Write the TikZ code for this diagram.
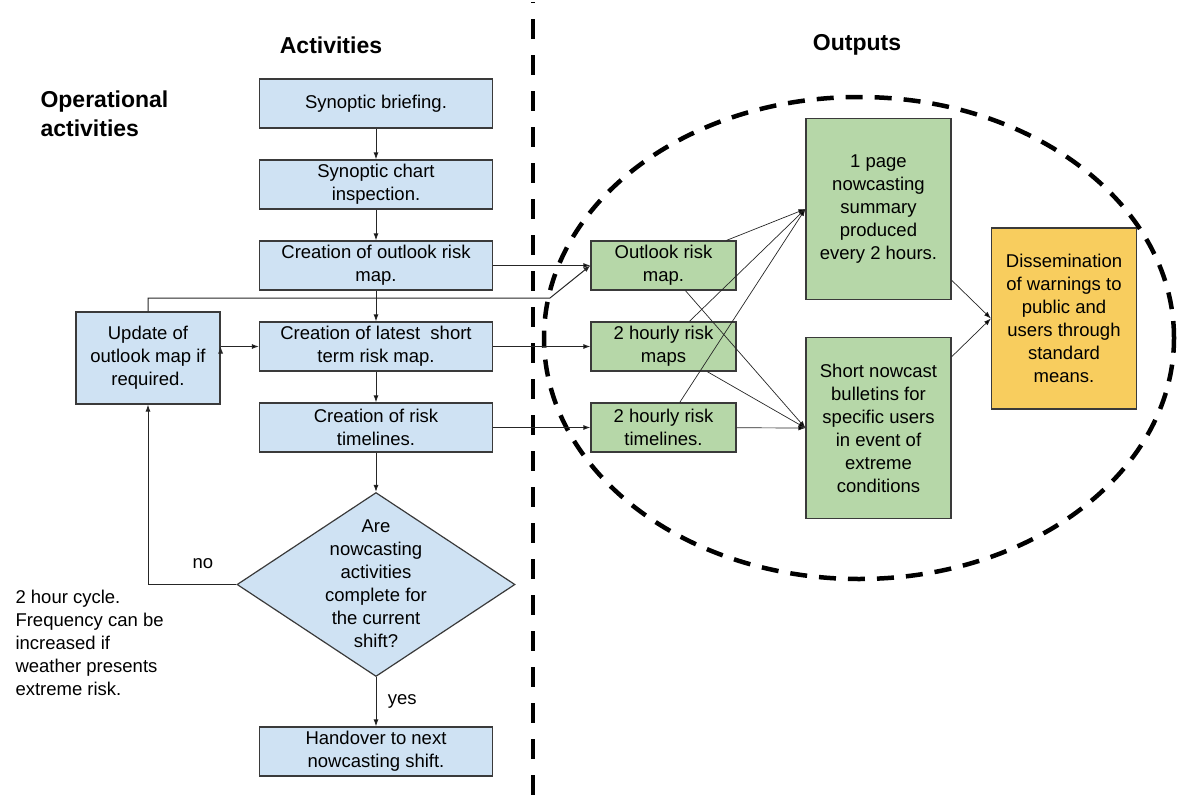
\documentclass[tikz,border=0pt]{standalone}
\usepackage{fontspec}
\setmainfont{Liberation Sans}
\usepackage{tikz}
\usetikzlibrary{arrows.meta,shapes.geometric}
\definecolor{actblue}{HTML}{CFE2F3}
\definecolor{outgreen}{HTML}{B6D7A8}
\definecolor{dissorange}{HTML}{F8CD5E}
\definecolor{edgegray}{HTML}{3A3A3A}

\begin{document}
\begin{tikzpicture}
[
x=1pt, y=-1pt,
font=\fontsize{18.5}{23}\selectfont,
>={Latex[length=7pt,width=5pt]},
act/.style={rectangle, draw=edgegray, line width=1.2pt, fill=actblue, minimum width=233pt, minimum height=49pt, inner sep=2pt, align=center, node distance=81pt},
upd/.style={act, minimum width=144pt, minimum height=92pt},
decide/.style={diamond, draw=edgegray, line width=1.2pt, fill=actblue, minimum width=278pt, minimum height=184pt, inner sep=0pt},
outp/.style={rectangle, draw=edgegray, line width=1.2pt, fill=outgreen, minimum width=145pt, minimum height=49pt, inner sep=2pt, align=center, node distance=81pt},
summ/.style={outp, minimum height=181pt},
diss/.style={summ, fill=dissorange},
title/.style={font=\bfseries\fontsize{23}{29}\selectfont, align=left},
note/.style={align=left, anchor=west},
link/.style={->, line width=1pt, draw=black!85},
fan/.style={->, line width=0.7pt, draw=black!85},
sepline/.style={line width=4pt, dash pattern=on 20pt off 16pt, dash phase=19pt},
ovaline/.style={line width=4.5pt, dash pattern=on 17pt off 12pt}
]
%Nodes
\node[title]           (acttitle)                 at (331,43)        {Activities};
\node[title]           (outtitle)                 at (857,43)        {Outputs};
\node[title, anchor=west] (optitle)               at (37,112)        {Operational\\activities};

\node[act]             (brief)                    at (376,101.5)     {Synoptic briefing.};
\node[act]             (chart)    [below of=brief]                   {Synoptic chart\\inspection.};
\node[act]             (olrisk)   [below of=chart]                   {Creation of outlook risk\\map.};
\node[act]             (short)    [below of=olrisk]                  {Creation of latest \ short\\term risk map.};
\node[act]             (timel)    [below of=short]                   {Creation of risk\\timelines.};
\node[decide]          (check)    [below of=timel, node distance=157pt]
  {\smash{\raisebox{-4pt}{\parbox{150pt}{\centering Are\\nowcasting\\activities\\complete for\\the current\\shift?}}}};
\node[act]             (hand)     [below of=check, node distance=167pt] {Handover to next\\nowcasting shift.};
\node[upd]             (update)                   at (148,356)       {Update of\\outlook map if\\required.};
\node[note]            (cycle)                    at (12,641)        {2 hour cycle.\\Frequency can be\\increased if\\weather presents\\extreme risk.};

\node[outp]            (olmap)                    at (663.5,263.5)   {Outlook risk\\map.};
\node[outp]            (maps)     [below of=olmap]                   {2 hourly risk\\maps};
\node[outp]            (times)    [below of=maps]                    {2 hourly risk\\timelines.};
\node[summ]            (summary)                  at (878.5,207)     {1 page\\nowcasting\\summary\\produced\\every 2 hours.};
\node[summ]            (bulletin) [below of=summary, node distance=219pt] {Short nowcast\\bulletins for\\specific users\\in event of\\extreme\\conditions};
\node[diss]            (dissem)                   at (1064,316.5)    {Dissemination\\of warnings to\\public and\\users through\\standard\\means.};
\coordinate            (uplink)                   at (550,296);

%Lines
\draw[sepline] (533,0) -- (533,794);
\draw[ovaline] (859,336) ellipse [x radius=315pt, y radius=241pt];

\path[link]
(brief)   edge (chart)
(chart)   edge (olrisk)
(olrisk)  edge (short)
(short)   edge (timel)
(timel)   edge (check)
(check)   edge node [right=8pt] {yes} (hand)
(olrisk)  edge (olmap)
(short)   edge (maps)
(timel)   edge (times)
(update.east |- short) edge (short.west);
\draw[link] (check.west) -| node [above=12pt, pos=0.19] {no} (update.south);
\draw[link] (update.north) |- (uplink) -- (olmap.west);

\path[fan]
(olmap)    edge (summary.west)
(olmap)    edge (bulletin.west)
(maps)     edge (summary.west)
(maps)     edge (bulletin.west)
(times)    edge (summary.west)
(times)    edge (bulletin.west)
(summary)  edge (dissem.west)
(bulletin) edge (dissem.west);

\useasboundingbox (0,0) rectangle (1179,794);
\end{tikzpicture}
\end{document}
